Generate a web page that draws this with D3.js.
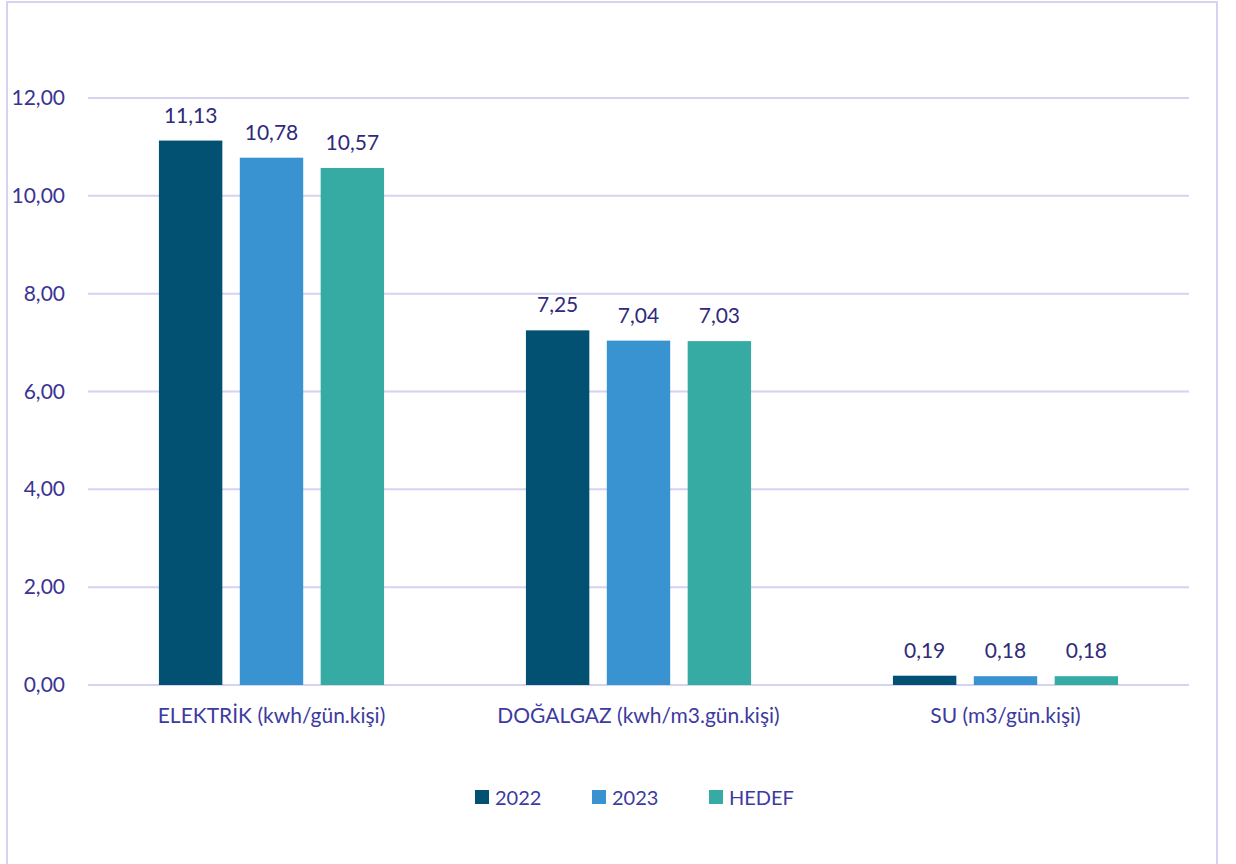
<!DOCTYPE html>
<html>
<head>
<meta charset="utf-8">
<script src="https://cdn.jsdelivr.net/npm/d3@7"></script>
<style>
  body { margin: 0; background: #fff; }
  text { font-family: Lato, "Open Sans", sans-serif; }
</style>
</head>
<body>
<div id="chart"></div>
<script>
// chart data
var categories = ["ELEKTRİK (kwh/gün.kişi)", "DOĞALGAZ (kwh/m3.gün.kişi)", "SU (m3/gün.kişi)"];
var seriesNames = ["2022", "2023", "HEDEF"];
var values2022 = [11.13, 7.25, 0.19];
var values2023 = [10.78, 7.04, 0.18];
var valuesHedef = [10.57, 7.03, 0.18];
var yTicks = [0, 2, 4, 6, 8, 10, 12];

var colors = ["#025172", "#3893d0", "#36aba4"];
var allSeries = [values2022, values2023, valuesHedef];

var width = 1236, height = 864;
var margin = {top: 98, right: 47, bottom: 179, left: 88};

var svg = d3.select("#chart").append("svg")
  .attr("width", width)
  .attr("height", height);

// outer frame
svg.append("rect")
  .attr("x", 7).attr("y", 2)
  .attr("width", 1210).attr("height", 880)
  .attr("fill", "none")
  .attr("stroke", "#d6d2f2")
  .attr("stroke-width", 2);

var x0 = d3.scaleBand()
  .domain(categories)
  .range([margin.left, width - margin.right]);

var x1 = d3.scaleBand()
  .domain(seriesNames)
  .range([0, x0.bandwidth()])
  .paddingInner(0.216)
  .paddingOuter(0.877);

var y = d3.scaleLinear()
  .domain([0, 12])
  .range([height - margin.bottom, margin.top]);

var fmt = function(v) { return d3.format(".2f")(v).replace(".", ","); };

// gridlines
svg.append("g")
  .selectAll("line")
  .data(yTicks)
  .enter()
  .append("line")
  .attr("x1", margin.left)
  .attr("x2", width - margin.right)
  .attr("y1", d => y(d))
  .attr("y2", d => y(d))
  .attr("stroke", "#d6d2f2")
  .attr("stroke-width", 2);

// y tick labels
svg.append("g")
  .selectAll("text")
  .data(yTicks)
  .enter()
  .append("text")
  .attr("x", 65)
  .attr("y", d => y(d) + 7)
  .attr("text-anchor", "end")
  .attr("font-size", 21)
  .attr("fill", "#3a3394")
  .text(d => fmt(d));

// bars
var groups = svg.selectAll(".group")
  .data(categories)
  .enter()
  .append("g")
  .attr("class", "group")
  .attr("transform", d => "translate(" + x0(d) + ",0)");

groups.selectAll("rect")
  .data((d, i) => seriesNames.map((s, j) => ({s: s, v: allSeries[j][i], c: colors[j]})))
  .enter()
  .append("rect")
  .attr("x", d => x1(d.s))
  .attr("width", x1.bandwidth())
  .attr("y", d => y(d.v))
  .attr("height", d => y(0) - y(d.v))
  .attr("fill", d => d.c);

groups.selectAll(".val")
  .data((d, i) => seriesNames.map((s, j) => ({s: s, v: allSeries[j][i]})))
  .enter()
  .append("text")
  .attr("class", "val")
  .attr("x", d => x1(d.s) + x1.bandwidth() / 2)
  .attr("y", d => y(d.v) - 18)
  .attr("text-anchor", "middle")
  .attr("font-size", 21)
  .attr("fill", "#2f2a7c")
  .text(d => fmt(d.v));

// category labels
svg.append("g")
  .selectAll("text")
  .data(categories)
  .enter()
  .append("text")
  .attr("x", d => x0(d) + x0.bandwidth() / 2)
  .attr("y", 723)
  .attr("text-anchor", "middle")
  .attr("font-size", 21)
  .attr("fill", "#3d3aa0")
  .text(d => d);

// legend
var legend = svg.selectAll(".legend")
  .data(seriesNames)
  .enter()
  .append("g")
  .attr("class", "legend")
  .attr("transform", (d, i) => "translate(" + (475 + i * 117) + ",790)");

legend.append("rect")
  .attr("width", 14).attr("height", 14)
  .attr("fill", (d, i) => colors[i]);

legend.append("text")
  .attr("x", 20)
  .attr("y", 15)
  .attr("font-size", 20)
  .attr("fill", "#3d3aa0")
  .text(d => d);
</script>
</body>
</html>
